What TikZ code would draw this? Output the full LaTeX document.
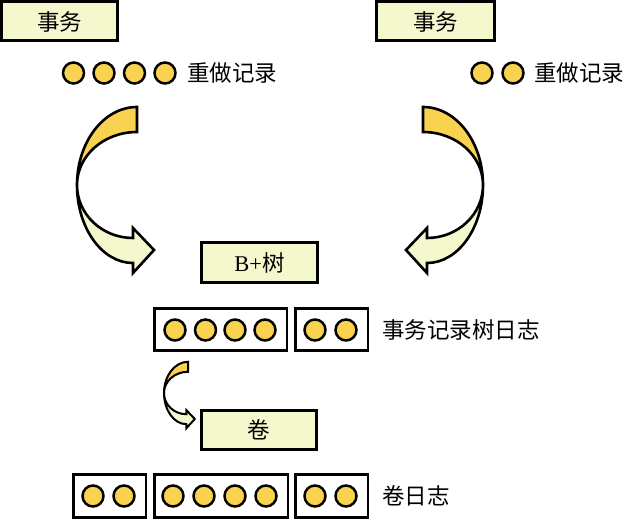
\documentclass[tikz,border=0pt]{standalone}
\usepackage{fontspec}
\setmainfont{Liberation Serif}
\newfontfamily\cjk{Noto Sans CJK SC}
\definecolor{boxfill}{HTML}{F5F7CD}
\definecolor{dotfill}{HTML}{F9D250}
\tikzset{
  txbox/.style={draw, line width=3pt, fill=boxfill, minimum width=116pt,
    minimum height=39pt, inner sep=0pt, font=\fontsize{22.5}{26}\selectfont},
  logbox/.style={draw, line width=2.5pt, fill=white, minimum height=42pt, inner sep=0pt},
  rec/.style={circle, draw, line width=2.5pt, fill=dotfill, minimum size=21pt, inner sep=0pt},
  lbl/.style={anchor=west, inner sep=0pt, font=\fontsize{22.5}{26}\selectfont\cjk},
  bandback/.style={draw, line width=2.6pt, fill=dotfill},
  bandfront/.style={draw, line width=2.6pt, fill=boxfill},
}
% curved arrow, origin at the pinch point where the two bands meet
\newcommand\curvedarrowshape[1]{%
  \path[bandfront,#1] (0,0) .. controls (0,43.1) and (25.1,78) .. (56,78)
    -- (56,88) -- (77,65) -- (56,43) -- (56,53)
    .. controls (25.1,53) and (0,29.3) .. (0,0) -- cycle;
  \path[bandback,#1] (60,-78) .. controls (26.9,-78) and (0,-43.1) .. (0,0)
    .. controls (0,-29.3) and (26.9,-53) .. (60,-53) -- cycle;
}
\begin{document}
\begin{tikzpicture}[x=1pt, y=-1pt]
\useasboundingbox (0,0) rectangle (626,521);

% transactions and their redo records
\node[txbox, minimum width=116pt] (txa) at (59.5,21.5) {\cjk 事务};
\node[txbox, minimum width=118pt] (txb) at (435.5,21.5) {\cjk 事务};

\foreach \x [count=\i] in {73.5,104,134.5,165}
  \node[rec] (ra\i) at (\x,73) {};
\node[lbl] (redoa) at (187,73) {重做记录};

\foreach \x [count=\i] in {482,513}
  \node[rec] (rb\i) at (\x,73) {};
\node[lbl] (redob) at (534,73) {重做记录};

% records flowing into the B+ tree
\begin{scope}[shift={(77,185)}]
  \curvedarrowshape{}
\end{scope}
\begin{scope}[shift={(483,185)}, xscale=-1]
  \curvedarrowshape{}
\end{scope}

\node[txbox] (tree) at (259.5,262.5) {B+{\cjk 树}};

% tree log
\node[logbox, minimum width=132.5pt] (tla) at (220.5,329.5) {};
\node[logbox, minimum width=72.5pt] (tlb) at (331.5,329.5) {};
\foreach \x [count=\i] in {175,205.5,235,265,315,346}
  \node[rec] (tr\i) at (\x,330) {};
\node[lbl] (treelog) at (382,330) {事务记录树日志};

% tree log flowing into the volume
\begin{scope}[shift={(164,393)}, scale=0.4]
  \curvedarrowshape{line width=2pt}
\end{scope}

\node[txbox, minimum width=115pt] (vol) at (259,430) {\cjk 卷};

% volume log
\node[logbox, minimum width=72.5pt, minimum height=43pt] (vla) at (109.5,496) {};
\node[logbox, minimum width=133.5pt, minimum height=43pt] (vlb) at (221,496) {};
\node[logbox, minimum width=72.5pt, minimum height=43pt] (vlc) at (331.5,496) {};
\foreach \x [count=\i] in {93,124,173,204,235,266,315,346}
  \node[rec] (vr\i) at (\x,496) {};
\node[lbl] (vollog) at (382,496) {卷日志};
\end{tikzpicture}
\end{document}
